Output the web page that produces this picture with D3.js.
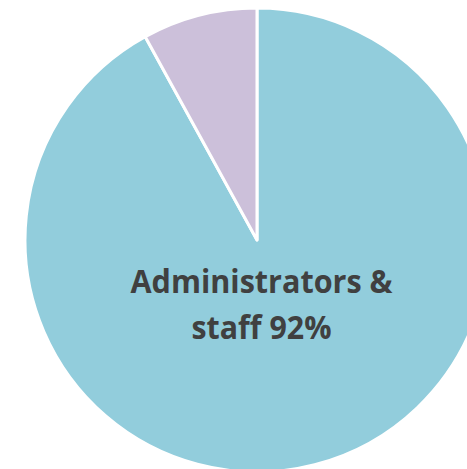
<!DOCTYPE html>
<html>
<head>
<meta charset="utf-8">
<script src="https://cdn.jsdelivr.net/npm/d3@7"></script>
<style>
  html, body { margin: 0; padding: 0; background: #ffffff; overflow: hidden; }
  svg { display: block; }
</style>
</head>
<body>
<svg id="chart" width="467" height="469"></svg>
<script>
// Share of personnel by group
const categories = ["Administrators & staff", "Other"];
const values = [92, 8];
const colors = ["#92CDDC", "#CCC0DA"];
const labelLines = ["Administrators &", "staff 92%"];
const labelWidths = [262, 140];

const width = 467, height = 469;
const cx = 257, cy = 240, radius = 232;

const svg = d3.select("#chart");
const g = svg.append("g").attr("transform", `translate(${cx},${cy})`);

// Slices run clockwise from 12 o'clock, largest first
const pie = d3.pie().sort(null).value(d => d.value);
const arcs = pie(categories.map((c, i) => ({ name: c, value: values[i] })));
const arc = d3.arc().innerRadius(0).outerRadius(radius);

g.selectAll("path.slice")
  .data(arcs)
  .join("path")
  .attr("class", "slice")
  .attr("d", arc)
  .attr("fill", (d, i) => colors[i])
  .attr("stroke", "#ffffff")
  .attr("stroke-width", 3)
  .attr("stroke-linejoin", "round");

// Data label inside the large slice, set in a narrow bold face
const label = svg.append("text")
  .attr("text-anchor", "middle")
  .attr("font-family", "'Open Sans', Lato, sans-serif")
  .attr("font-weight", 700)
  .attr("font-size", 32)
  .attr("fill", "#404040");

label.selectAll("tspan")
  .data(labelLines)
  .join("tspan")
  .attr("x", 261.5)
  .attr("y", (d, i) => 293 + i * 45.5)
  .attr("textLength", (d, i) => labelWidths[i])
  .attr("lengthAdjust", "spacingAndGlyphs")
  .text((d, i) => i === 1 ? `staff ${values[0]}%` : d);
</script>
</body>
</html>
